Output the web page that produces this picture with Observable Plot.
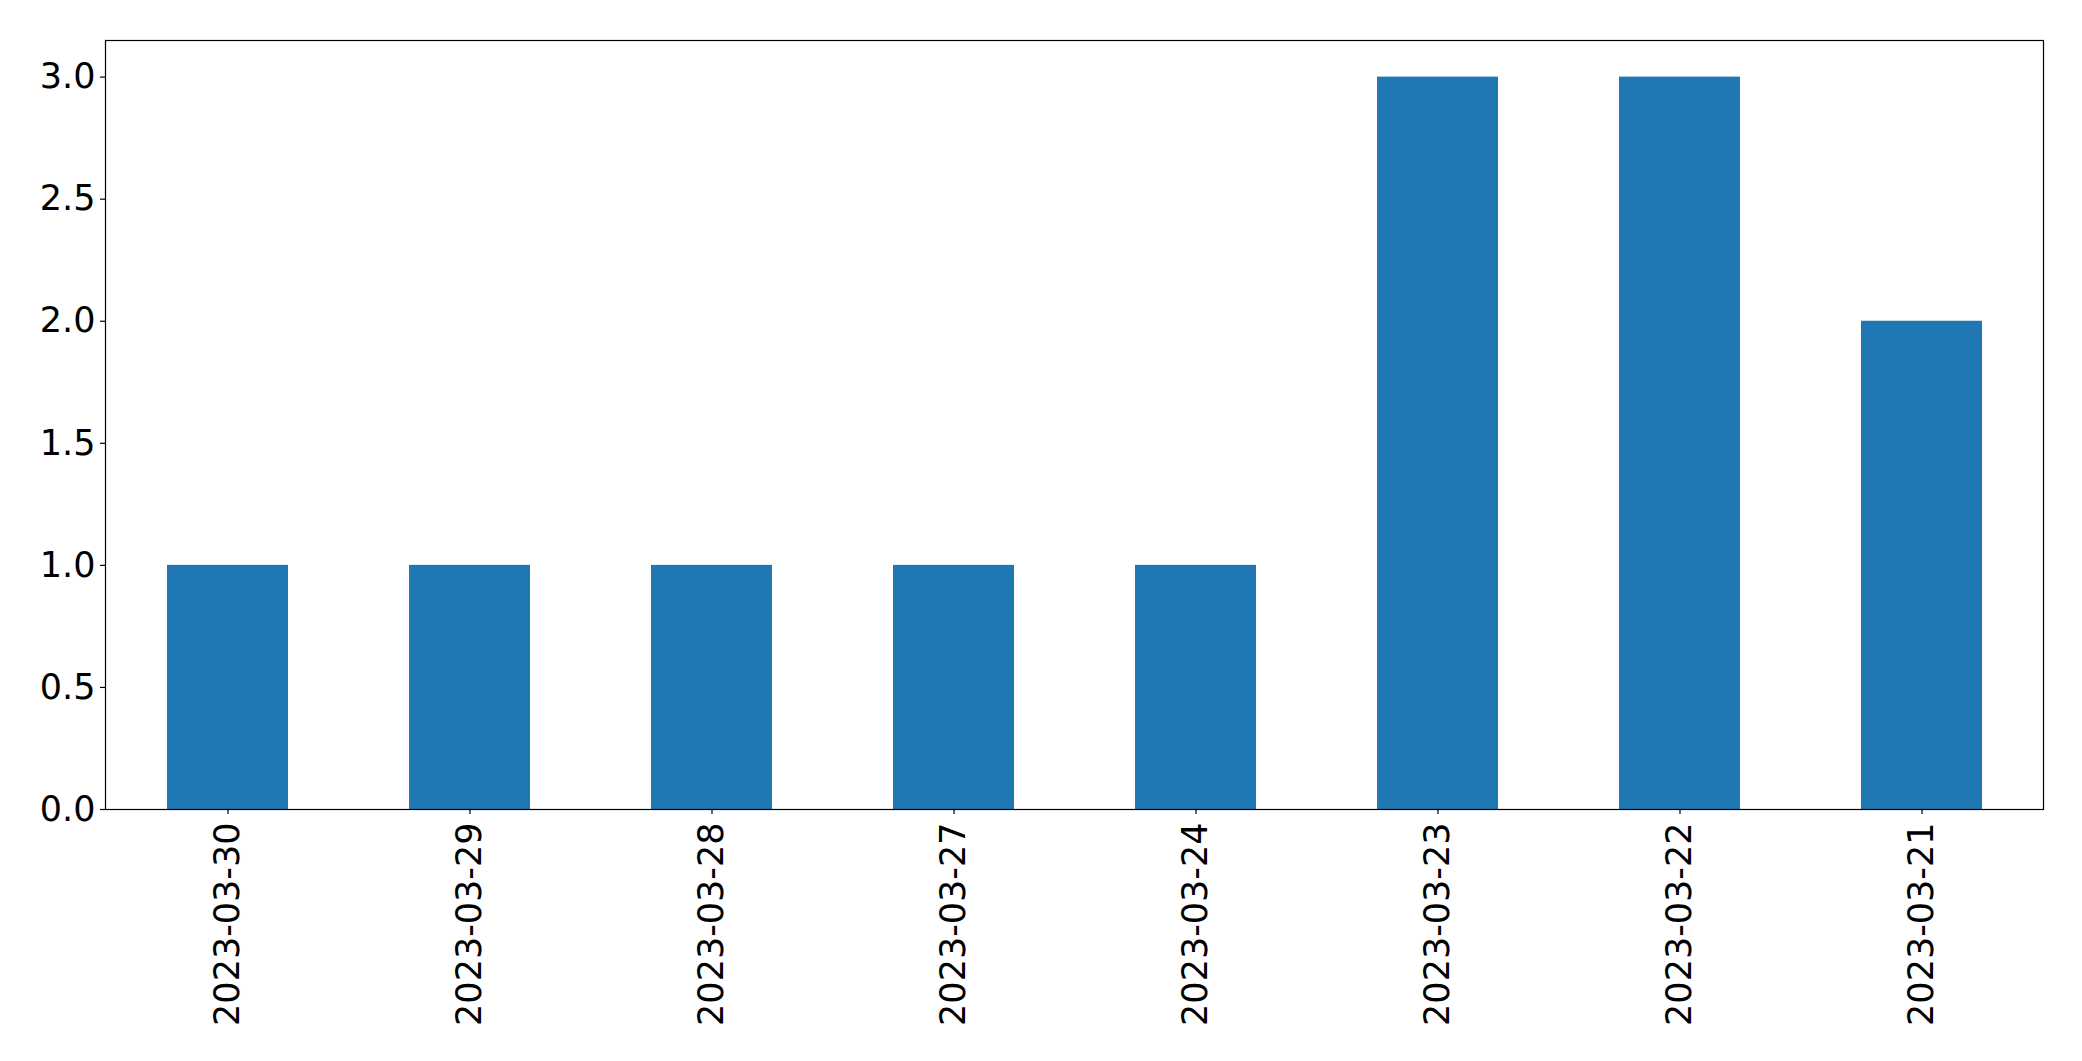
<!DOCTYPE html>
<html>
<head>
<meta charset="utf-8">
<script src="https://cdn.jsdelivr.net/npm/d3@7"></script>
<script src="https://cdn.jsdelivr.net/npm/@observablehq/plot@0.6"></script>
<style>
html, body { margin: 0; padding: 0; background: #fff; }
#chart svg { display: block; }
</style>
</head>
<body>
<div id="chart"></div>
<script>
const dates = ["2023-03-30","2023-03-29","2023-03-28","2023-03-27","2023-03-24","2023-03-23","2023-03-22","2023-03-21"];
const counts = [1, 1, 1, 1, 1, 3, 3, 2];
const yTicks = [0, 0.5, 1.0, 1.5, 2.0, 2.5, 3.0];

const data = dates.map((d, i) => ({date: d, count: counts[i]}));

const chart = Plot.plot({
  width: 2082,
  height: 1061,
  marginLeft: 105,
  marginRight: 39,
  marginTop: 40,
  marginBottom: 252,
  style: {fontFamily: "DejaVu Sans", fontSize: "35px", color: "#000", background: "#fff"},
  x: {domain: dates, paddingInner: 0.5, paddingOuter: 0.25, label: null},
  y: {domain: [0, 3.15], label: null},
  marks: [
    Plot.barY(data, {x: "date", y: "count", fill: "#1f77b4"}),
    Plot.frame({stroke: "#000", strokeWidth: 1.2, strokeOpacity: 1}),
    Plot.axisY({ticks: yTicks, tickFormat: d3.format(".1f"), tickSize: 5, tickPadding: 5, fontSize: 35, fill: "#000", stroke: "#000", strokeWidth: 1.2, strokeOpacity: 1, label: null}),
    Plot.axisX({tickSize: 5, tickPadding: 8, tickRotate: -90, fontSize: 35, fill: "#000", stroke: "#000", strokeWidth: 1.2, strokeOpacity: 1, label: null})
  ]
});
document.getElementById("chart").appendChild(chart);
</script>
</body>
</html>
